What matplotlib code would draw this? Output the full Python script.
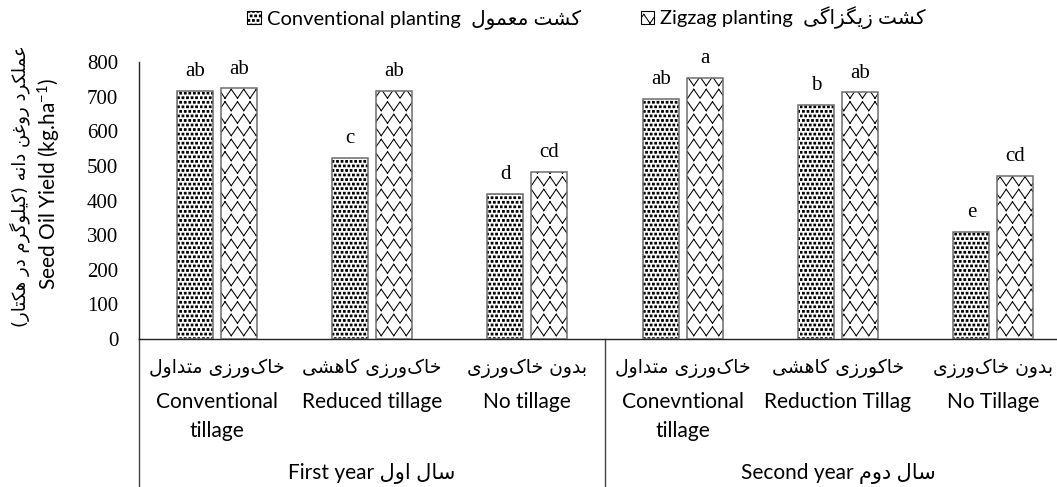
import numpy as np
import matplotlib
matplotlib.use("Agg")
import matplotlib.pyplot as plt
import matplotlib.hatch as mhatch
from matplotlib.patches import Patch
from matplotlib.font_manager import FontProperties

# ---------------- data ----------------
categories_fa = ["خاک‌ورزی متداول", "خاک‌ورزی کاهشی", "بدون خاک‌ورزی",
                 "خاک‌ورزی متداول", "خاکورزی کاهشی", "بدون خاک‌ورزی"]
categories_en = ["Conventional\ntillage", "Reduced tillage", "No tillage",
                 "Conevntional\ntillage", "Reduction Tillag", "No Tillage"]
conventional = [716, 523, 420, 693, 676, 309]
zigzag = [724, 716, 483, 754, 712, 471]
letters_conv = ["ab", "c", "d", "ab", "b", "e"]
letters_zig = ["ab", "ab", "cd", "a", "ab", "cd"]
years_en = ["First year", "Second year"]
years_fa = ["سال اول", "سال دوم"]
series_en = ["Conventional planting", "Zigzag planting"]
series_fa = ["کشت معمول", "کشت زیگزاگی"]
ylabel_en = "Seed Oil Yield (kg.ha$^{-1}$)"
ylabel_fa = "عملکرد روغن دانه (کیلوگرم در هکتار)"
yticks = [0, 100, 200, 300, 400, 500, 600, 700, 800]

# ---------------- simple Persian shaping (presentation forms) ----------------
FORMS = {
    'ا': ('\uFE8D', '\uFE8E'), 'د': ('\uFEA9', '\uFEAA'), 'ر': ('\uFEAD', '\uFEAE'),
    'ز': ('\uFEAF', '\uFEB0'), 'و': ('\uFEED', '\uFEEE'),
    'ب': ('\uFE8F', '\uFE90', '\uFE91', '\uFE92'), 'ت': ('\uFE95', '\uFE96', '\uFE97', '\uFE98'),
    'خ': ('\uFEA5', '\uFEA6', '\uFEA7', '\uFEA8'), 'س': ('\uFEB1', '\uFEB2', '\uFEB3', '\uFEB4'),
    'ش': ('\uFEB5', '\uFEB6', '\uFEB7', '\uFEB8'), 'ع': ('\uFEC9', '\uFECA', '\uFECB', '\uFECC'),
    'غ': ('\uFECD', '\uFECE', '\uFECF', '\uFED0'), 'ل': ('\uFEDD', '\uFEDE', '\uFEDF', '\uFEE0'),
    'م': ('\uFEE1', '\uFEE2', '\uFEE3', '\uFEE4'), 'ن': ('\uFEE5', '\uFEE6', '\uFEE7', '\uFEE8'),
    'ه': ('\uFEE9', '\uFEEA', '\uFEEB', '\uFEEC'), 'ک': ('\uFB8E', '\uFB8F', '\uFB90', '\uFB91'),
    'گ': ('\uFB92', '\uFB93', '\uFB94', '\uFB95'), 'ی': ('\uFBFC', '\uFBFD', '\uFBFE', '\uFBFF'),
}


def fa(text):
    chars = list(text)
    out = []
    for i, c in enumerate(chars):
        if c not in FORMS:
            out.append(c)
            continue
        f = FORMS[c]
        prev = chars[i - 1] if i > 0 else ''
        nxt = chars[i + 1] if i + 1 < len(chars) else ''
        jp = prev in FORMS and len(FORMS[prev]) == 4
        jn = len(f) == 4 and nxt in FORMS
        if jp and jn:
            g = f[3]
        elif jp:
            g = f[1]
        elif jn:
            g = f[2]
        else:
            g = f[0]
        out.append(g)
    s = ''.join(out).replace('\u200c', '')[::-1]
    return s.translate(str.maketrans('()', ')('))


# ---------------- custom hatch patterns ----------------
class SquareDots(mhatch.HatchPatternBase):
    def __init__(self, hatch, density):
        self.n = 22 if 'o' in hatch else 0
        self.num_vertices = self.n * self.n * 5

    def set_vertices_and_codes(self, vertices, codes):
        n = self.n
        h = 0.0085
        k = 0
        for i in range(n):
            for j in range(n):
                cx = (j + (0.25 if i % 2 == 0 else 0.75)) / n
                cy = (i + 0.5) / n
                vertices[k:k + 5] = [(cx - h, cy - h), (cx + h, cy - h), (cx + h, cy + h),
                                     (cx - h, cy + h), (cx - h, cy - h)]
                codes[k:k + 5] = [1, 2, 2, 2, 79]
                k += 5


class ZigZag(mhatch.HatchPatternBase):
    def __init__(self, hatch, density):
        self.rows = 8 if 'O' in hatch else 0
        self.per = 8
        self.num_vertices = self.rows * self.per * 2 * 2

    def set_vertices_and_codes(self, vertices, codes):
        a = 0.045
        k = 0
        for i in range(self.rows):
            y0 = (i + 0.5) / self.rows
            sgn = 1 if i % 2 == 0 else -1
            for s in range(self.per * 2):
                x1 = s / (self.per * 2)
                x2 = (s + 1) / (self.per * 2)
                y1 = y0 + sgn * a * (1 if s % 2 else -1)
                y2 = y0 + sgn * a * (-1 if s % 2 else 1)
                vertices[k:k + 2] = [(x1, y1), (x2, y2)]
                codes[k:k + 2] = [1, 2]
                k += 2


mhatch._hatch_types = [t for t in mhatch._hatch_types
                       if t not in (mhatch.SmallCircles, mhatch.LargeCircles)] + [SquareDots, ZigZag]
plt.rcParams['hatch.linewidth'] = 0.75
plt.rcParams['mathtext.default'] = 'regular'

SERIF = 'Liberation Serif'
SANS = ['Lato', 'DejaVu Sans']

# ---------------- figure ----------------
fig = plt.figure(figsize=(10.57, 4.87), dpi=100)
ax = fig.add_axes([139 / 1057, 148 / 487, 932 / 1057, 277 / 487])

x = np.arange(len(conventional))
w = 0.232
off = 0.1415
for vals, sh, hatch in [(conventional, -off, 'o'), (zigzag, off, 'O')]:
    ax.bar(x + sh, vals, w, color='white', edgecolor='black', linewidth=0, hatch=hatch, zorder=2)
    ax.bar(x + sh, vals, w, fill=False, edgecolor='#6e6e6e', linewidth=1.1, zorder=3)

for xi, v, t in zip(x - off, conventional, letters_conv):
    ax.annotate(t, (xi, v), xytext=(0, 7), textcoords='offset points', ha='center', va='bottom',
                fontsize=15, family=SERIF, annotation_clip=False)
for xi, v, t in zip(x + off, zigzag, letters_zig):
    ax.annotate(t, (xi, v), xytext=(0, 7), textcoords='offset points', ha='center', va='bottom',
                fontsize=15, family=SERIF, annotation_clip=False)

ax.set_xlim(-0.5, 5.5)
ax.set_ylim(0, 800)
ax.set_yticks(yticks)
ax.set_yticklabels([str(t) for t in yticks], family=SERIF, fontsize=15)
ax.tick_params(axis='y', length=0, pad=15)
ax.set_xticks(x)
ax.set_xticklabels(categories_en, family=SANS, fontsize=15, linespacing=1.55)
ax.tick_params(axis='x', length=0, pad=38)
for sp in ['top', 'right']:
    ax.spines[sp].set_visible(False)
for sp in ['left', 'bottom']:
    ax.spines[sp].set_linewidth(1.0)
    ax.spines[sp].set_color('#222222')

tr = ax.get_xaxis_transform()
for xi, t in zip(x, categories_fa):
    ax.text(xi, -0.105, fa(t), transform=tr, ha='center', va='center', fontsize=13.5,
            family='DejaVu Sans')
for xc, en, f in zip([1.0, 4.0], years_en, years_fa):
    ax.text(xc, -0.485, en + ' ' + fa(f), transform=tr, ha='center', va='center',
            fontsize=15, family=SANS)
for xs in [-0.5, 2.5]:
    ax.plot([xs, xs], [0, -0.56], transform=tr, color='#444444', lw=1.0, clip_on=False)

# y label (two lines)
fig.text(49 / 1057, 1 - 184 / 487, ylabel_en, rotation=90, ha='center', va='center',
         fontsize=15, family=SANS)
fig.text(20 / 1057, 1 - 186 / 487, fa(ylabel_fa), rotation=90, ha='center', va='center',
         fontsize=13, family='DejaVu Sans')

# legend
handles = [Patch(facecolor='white', edgecolor='black', hatch='o', linewidth=0.8),
           Patch(facecolor='white', edgecolor='black', hatch='O', linewidth=0.8)]
labels = [e + '  ' + fa(f) for e, f in zip(series_en, series_fa)]
fig.legend(handles, labels, loc='center', bbox_to_anchor=(0.555, 1 - 18 / 487), ncol=2,
           frameon=False, prop=FontProperties(family=SANS, size=14.5),
           handlelength=0.65, handleheight=0.65, handletextpad=0.3, columnspacing=3.0)

fig.savefig('out.png', dpi=100)
